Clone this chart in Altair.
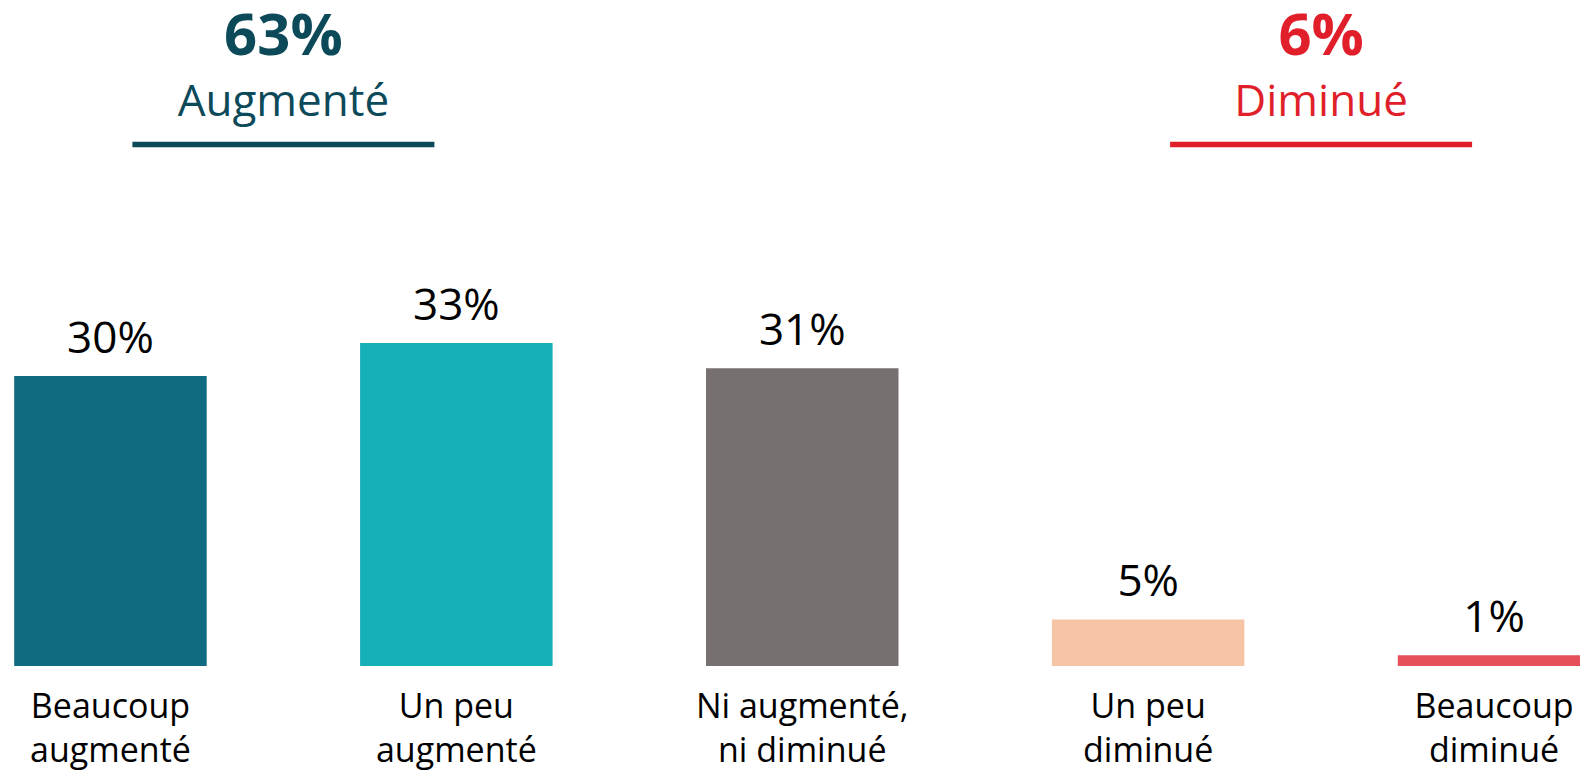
import altair as alt
import pandas as pd

# ---- data ----
categories = ["Beaucoup|augmenté", "Un peu|augmenté", "Ni augmenté,|ni diminué",
              "Un peu|diminué", "Beaucoup|diminué"]
values = [29.9, 33.3, 30.7, 4.8, 1.1]
value_labels = ["30%", "33%", "31%", "5%", "1%"]
bar_colors = ["#106b80", "#14afb7", "#767170", "#f7c4a5", "#e6505a"]

group_totals = ["63%", "6%"]
group_names = ["Augmenté", "Diminué"]
group_colors = ["#0c4a5a", "#e01f2b"]
group_bars = [(0, 1), (3, 4)]

df = pd.DataFrame({"cat": categories, "value": values,
                   "label": value_labels, "color": bar_colors})

# ---- geometry of the band scale ----
range_start = 6.2
step = 345.9
pad_inner = 0.4435
bandwidth = step * (1 - pad_inner)
range_stop = range_start + step * (len(categories) - pad_inner)

W, H = 1572, 658

x = alt.X("cat:N", sort=categories,
          scale=alt.Scale(range=[range_start, range_stop], paddingInner=pad_inner,
                          paddingOuter=0, align=0, round=False),
          axis=alt.Axis(title=None, domain=False, ticks=False, tickSize=0, labelAngle=0,
                        labelFont="Open Sans", labelFontSize=34, labelColor="#000000",
                        labelLineHeight=44, labelPadding=51.7, labelBaseline="alphabetic",
                        labelLimit=0, labelOverlap=False,
                        labelExpr="split(datum.label, '|')"))
y = alt.Y("value:Q", scale=alt.Scale(domain=[0, 67.84], nice=False, zero=True, round=False),
          axis=None)

bars = alt.Chart(df).mark_bar(clip=True).encode(
    x=x, y=y, color=alt.Color("color:N", scale=None))
vals = alt.Chart(df).mark_text(baseline="alphabetic", dy=-23, font="Open Sans",
                               fontSize=44, color="#000000").encode(
    x=x, y=y, text="label:N")

layers = [bars, vals]
for i, (a, b) in enumerate(group_bars):
    ca = range_start + a * step + bandwidth / 2
    cb = range_start + b * step + bandwidth / 2
    cx = (ca + cb) / 2
    hd = pd.DataFrame({"total": [group_totals[i]], "name": [group_names[i]]})
    layers.append(alt.Chart(hd).mark_text(font="Open Sans", fontWeight="bold", fontSize=58,
                                          color=group_colors[i], baseline="alphabetic",
                                          align="center").encode(
        x=alt.value(cx), y=alt.value(47), text="total:N"))
    layers.append(alt.Chart(hd).mark_text(font="Open Sans", fontSize=44,
                                          color=group_colors[i], baseline="alphabetic",
                                          align="center").encode(
        x=alt.value(cx), y=alt.value(107.5), text="name:N"))
    layers.append(alt.Chart(hd).mark_rule(strokeWidth=5.6, color=group_colors[i]).encode(
        x=alt.value(cx - 151), x2=alt.value(cx + 151), y=alt.value(136.5)))

chart = alt.layer(*layers).properties(
    width=W, height=H,
    padding={"left": 0, "right": 0, "top": 0, "bottom": 105},
    autosize=alt.AutoSizeParams(type="none"),
).configure_view(stroke=None)

chart.save("out.html", embed_options={"renderer": "svg", "actions": False})
